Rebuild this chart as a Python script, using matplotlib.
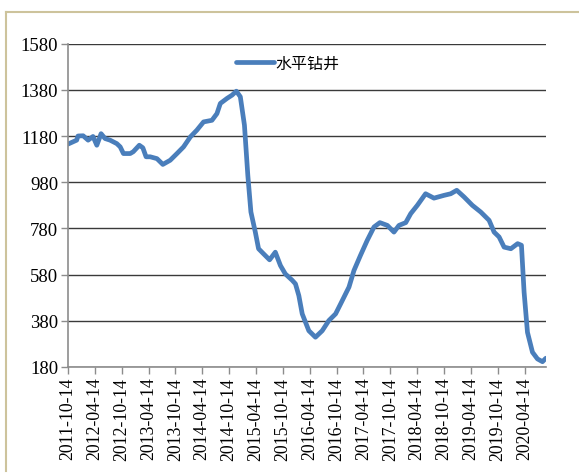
import matplotlib
matplotlib.use("Agg")
import matplotlib.pyplot as plt
from matplotlib.lines import Line2D
import pandas as pd

series_name = "水平钻井"

dates = [
    "2011-10-14", "2011-10-21", "2011-12-12", "2011-12-21", "2012-01-25", "2012-02-28",
    "2012-04-01", "2012-04-27", "2012-05-26", "2012-06-22", "2012-07-26", "2012-09-10",
    "2012-10-03", "2012-10-25", "2012-12-10", "2012-12-31", "2013-02-10", "2013-03-06",
    "2013-03-28", "2013-04-25", "2013-06-10", "2013-07-20", "2013-09-08", "2013-10-24",
    "2013-12-08", "2014-01-23", "2014-03-08", "2014-04-23", "2014-06-19", "2014-07-23",
    "2014-08-15", "2014-09-30", "2014-11-03", "2014-12-02", "2014-12-29", "2015-01-26",
    "2015-02-18", "2015-03-11", "2015-04-10", "2015-05-02", "2015-06-05", "2015-07-16",
    "2015-08-24", "2015-09-28", "2015-10-31", "2015-12-16", "2016-01-08", "2016-01-31",
    "2016-02-23", "2016-04-08", "2016-05-23", "2016-07-08", "2016-08-22", "2016-10-07",
    "2016-11-10", "2017-01-06", "2017-02-09", "2017-03-25", "2017-05-10", "2017-06-25",
    "2017-08-04", "2017-09-24", "2017-11-08", "2017-12-12", "2018-01-27", "2018-03-02",
    "2018-04-16", "2018-06-11", "2018-08-07", "2018-10-14", "2018-11-29", "2019-01-09",
    "2019-02-28", "2019-04-25", "2019-06-21", "2019-08-17", "2019-09-20", "2019-10-24",
    "2019-11-27", "2020-01-12", "2020-02-27", "2020-03-24", "2020-04-11", "2020-05-04",
    "2020-06-07", "2020-07-11", "2020-08-14", "2020-09-06",
]
values = [
    1145, 1147, 1162, 1180, 1181, 1162,
    1178, 1140, 1190, 1169, 1162, 1147,
    1133, 1104, 1104, 1112, 1140, 1129,
    1090, 1090, 1082, 1057, 1075, 1104,
    1133, 1176, 1205, 1241, 1248, 1277,
    1321, 1343, 1357, 1374, 1350, 1227,
    1010, 851, 764, 692, 670, 644,
    677, 619, 583, 556, 540, 489,
    410, 337, 309, 337, 381, 410,
    453, 526, 598, 663, 728, 786,
    805, 793, 764, 793, 805, 844,
    880, 930, 911, 923, 930, 945,
    916, 880, 851, 815, 764, 743,
    699, 692, 714, 707, 504, 330,
    244, 215, 203, 218,
]

tick_labels = [
    "2011-10-14", "2012-04-14", "2012-10-14", "2013-04-14", "2013-10-14",
    "2014-04-14", "2014-10-14", "2015-04-14", "2015-10-14", "2016-04-14",
    "2016-10-14", "2017-04-14", "2017-10-14", "2018-04-14", "2018-10-14",
    "2019-04-14", "2019-10-14", "2020-04-14",
]
y_ticks = [180, 380, 580, 780, 980, 1180, 1380, 1580]

W, H = 579, 477
fig = plt.figure(figsize=(W / 100, H / 100), dpi=100)

# outer frame (top and left lines)
frame_color = "#cdc39c"
fig.add_artist(Line2D([6 / W, 1.0], [1 - 12.5 / H, 1 - 12.5 / H], color=frame_color, lw=1.5))
fig.add_artist(Line2D([6 / W, 6 / W], [1 - 12.5 / H, 1 - 472 / H], color=frame_color, lw=1.5))

left, right = 68 / W, 546 / W
bottom, top = 1 - 368 / H, 1 - 44.6 / H
ax = fig.add_axes([left, bottom, right - left, top - bottom])

x = pd.to_datetime(dates)
ax.plot(x, values, color="#4a7ebb", lw=3.4, solid_capstyle="round",
        solid_joinstyle="round", label=series_name)

ax.set_xlim(pd.Timestamp("2011-10-14"), pd.Timestamp("2020-09-07"))
ax.set_ylim(180, 1580)

ax.set_yticks(y_ticks)
ax.set_yticklabels([str(v) for v in y_ticks], fontfamily="Liberation Serif", fontsize=13.5)
tick_pos = pd.to_datetime(tick_labels)
ax.set_xticks(tick_pos)
ax.set_xticklabels(tick_labels, rotation=90, fontfamily="Liberation Serif", fontsize=12.8)

ax.grid(axis="y", color="#3a3a3a", lw=1.0)
ax.set_axisbelow(True)
for s in ["top", "right"]:
    ax.spines[s].set_visible(False)
for s in ["left", "bottom"]:
    ax.spines[s].set_color("#8c8c8c")
    ax.spines[s].set_linewidth(1.2)
ax.tick_params(axis="both", color="#8c8c8c", length=5, width=1.0, direction="out", pad=2)

leg = ax.legend(loc="upper center", bbox_to_anchor=(0.46, 1.0), frameon=False,
                prop={"family": ["Noto Sans CJK SC", "DejaVu Sans"], "size": 11.5},
                handlelength=2.4, handletextpad=0.1, borderaxespad=0.3)

fig.savefig("out.png", dpi=100)
